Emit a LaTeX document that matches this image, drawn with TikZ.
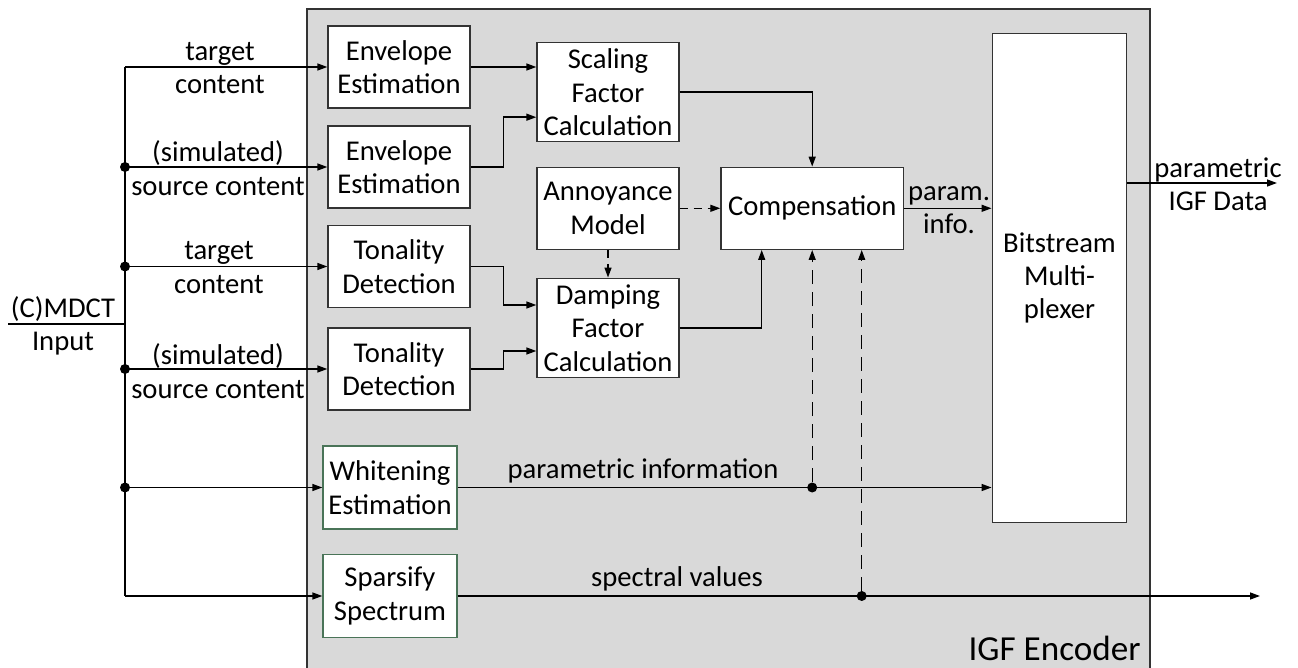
\documentclass[tikz,border=0pt]{standalone}
\usepackage{fontspec}
\setmainfont{Carlito}
\usetikzlibrary{arrows.meta}
\definecolor{encgray}{HTML}{D9D9D9}
\definecolor{greenframe}{HTML}{4A7458}

\begin{document}
\begin{tikzpicture}[x=0.02cm,y=-0.02cm,font=\fontsize{16.3pt}{19pt}\selectfont]
\tikzstyle{block}=[rectangle,align=center,draw=black!80,fill=white,line width=0.8pt,inner sep=0pt,minimum width=2.84cm,minimum height=1.64cm]
\tikzstyle{greenblock}=[block,draw=greenframe,minimum width=2.68cm,minimum height=1.66cm]
\tikzstyle{label}=[align=center,inner sep=0pt]
\tikzstyle{sig}=[-{Triangle[length=0.2cm,width=0.14cm]},line width=0.8pt]
\tikzstyle{ctrl}=[sig,dash pattern=on 0.28cm off 0.16cm]
\tikzstyle{ctrlshort}=[sig,dash pattern=on 0.16cm off 0.12cm]
\tikzstyle{dot}=[circle,fill=black,inner sep=0pt,minimum size=0.2cm]
\useasboundingbox (0,0) rectangle (1298,668);
\filldraw[fill=encgray,draw=black!80,line width=0.8pt] (307,9) rectangle (1150,700);

% estimation blocks
\node[block] (env1) at (399,67){Envelope\\Estimation};
\node[block] (env2) at (399,167){Envelope\\Estimation};
\node[block] (ton1) at (399,266.5){Tonality\\Detection};
\node[block] (ton2) at (399,369){Tonality\\Detection};
\node[greenblock] (white) at (390,487.5){Whitening\\Estimation};
\node[greenblock] (sparse) at (390,596){Sparsify\\Spectrum};
\node[block,minimum height=1.98cm] (scal) at (608,92.2){Scaling\\Factor\\Calculation};
\node[block] (annoy) at (608,208.3){Annoyance\\Model};
\node[block,minimum height=1.99cm] (damp) at (608,328){Damping\\Factor\\Calculation};
\node[block,minimum width=3.65cm] (comp) at (812.2,208.3){Compensation};
\node[block,minimum width=2.69cm,minimum height=9.79cm] (mux) at (1059.5,278){Bitstream\\Multi-\\plexer};
\node[label,anchor=east,font=\fontsize{20pt}{24pt}\selectfont] (enc_felirat) at (1141,648){IGF Encoder};

% input bus
\coordinate (in) at (8,324);
\coordinate (bus) at (125,324);
\coordinate (b1) at (125,67);
\coordinate (b2) at (125,167);
\coordinate (b3) at (125,266.5);
\coordinate (b4) at (125,369);
\coordinate (b5) at (125,487.5);
\coordinate (b6) at (125,596);
\node[label] (input_felirat) at (63,326){(C)MDCT\\Input};
\draw[line width=0.8pt] (in) -- (bus);
\draw[line width=0.8pt] (b1) -- (b6);
\foreach \b in {b2,b3,b4,b5} \node[dot] at (\b){};
\draw[sig] (b1) -- (b1 -| env1.west);
\draw[sig] (b2) -- (b2 -| env2.west);
\draw[sig] (b3) -- (b3 -| ton1.west);
\draw[sig] (b4) -- (b4 -| ton2.west);
\draw[sig] (b5) -- (b5 -| white.west);
\draw[sig] (b6) -- (b6 -| sparse.west);
\node[label] (t1_felirat) at (220,68){target\\content};
\node[label] (s1_felirat) at (218,168){(simulated)\\source content};
\node[label] (t2_felirat) at (219,267.5){target\\content};
\node[label] (s2_felirat) at (218,371){(simulated)\\source content};

% factor calculation
\draw[sig] (env1.east) -- (env1.east -| scal.west);
\draw[sig] (env2.east) -- ++(33,0) |- ([yshift=-0.5cm]scal.west);
\draw[sig] (ton1.east) -- ++(33,0) |- ([yshift=0.46cm]damp.west);
\draw[sig] (ton2.east) -- ++(33,0) |- ([yshift=-0.46cm]damp.west);
\draw[sig] (scal.east) -| (comp.north);
\draw[sig] (damp.east) -| ([xshift=-1.01cm]comp.south);
\draw[ctrlshort] (annoy) -- (comp);
\draw[ctrlshort] (annoy) -- (damp);

% outputs
\draw[sig] (comp.east) -- (comp.east -| mux.west);
\node[label] (pi_felirat) at (949,210){param.\\info.};
\draw[sig] (white.east) -- (white.east -| mux.west);
\node[label] (pinf_felirat) at (643,471){parametric information};
\coordinate (sv_out) at (1260,596);
\draw[sig] (sparse.east) -- (sv_out);
\node[label] (sv_felirat) at (677,579){spectral values};
\node[dot] (d1) at (comp.south |- white.east){};
\node[dot] (d2) at (861.7,596){};
\draw[ctrl] (d1) -- (comp.south);
\draw[ctrl] (d2) -- (d2 |- comp.south);
\coordinate (igf_out) at (1277,183);
\draw[sig] (mux.east |- igf_out) -- (igf_out);
\node[label] (igf_felirat) at (1218,184){parametric\\IGF Data};

\end{tikzpicture}
\end{document}
